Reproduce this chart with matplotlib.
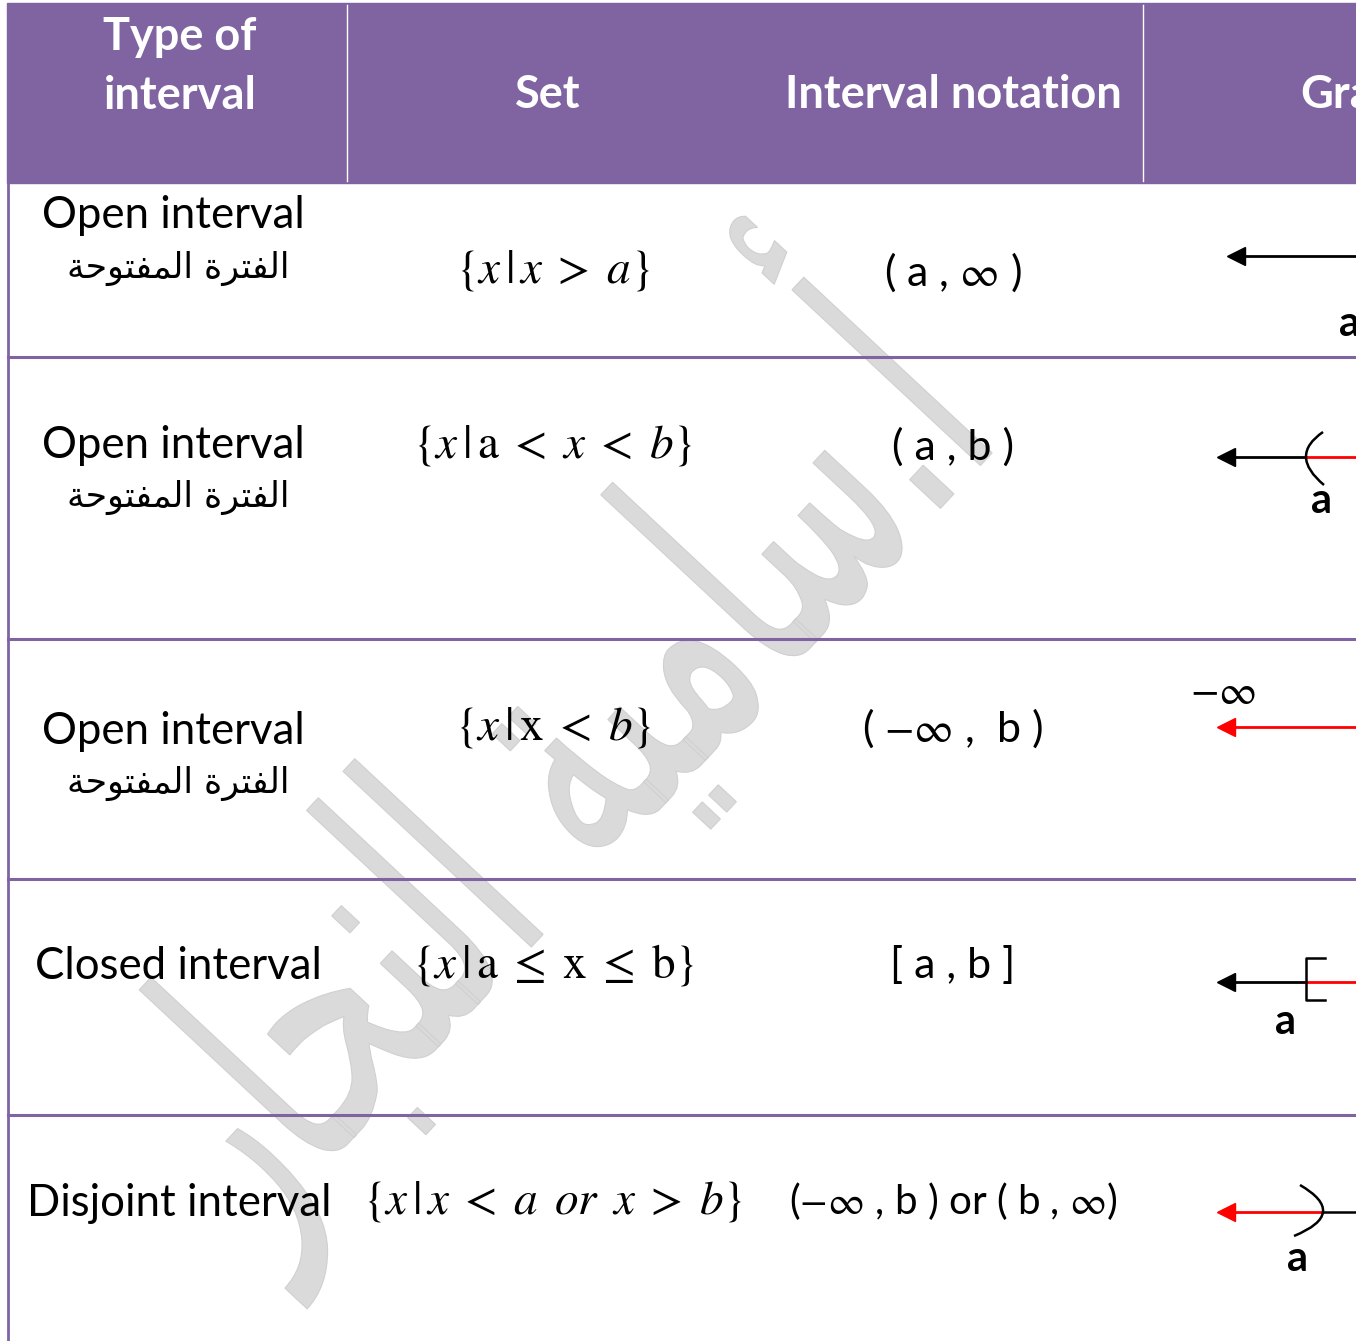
import numpy as np
import matplotlib
matplotlib.use("Agg")
import matplotlib.pyplot as plt
from matplotlib.path import Path
from matplotlib.patches import PathPatch, Rectangle
from matplotlib.textpath import TextPath
from matplotlib.font_manager import FontProperties
from matplotlib.transforms import Affine2D

plt.rcParams["mathtext.fontset"] = "stix"

PURPLE = "#8064A2"
W, H = 1356, 1341

# table content
headers = ["Type of\ninterval", "Set", "Interval notation", "Graph"]
types = ["Open interval", "Open interval", "Open interval", "Closed interval", "Disjoint interval"]
# Arabic "الفترة المفتوحة" written in shaped presentation forms (visual order)
arabic_label = "\ufe94\ufea3\ufeee\ufe98\ufed4\ufee4\ufedf\ufe8d \ufe93\ufeae\ufe98\ufed4\ufedf\ufe8d"
arabic = [arabic_label, arabic_label, arabic_label, None, None]
sets = [r"$\{x\,|\,x\;>\;a\}$",
        r"$\{x\,|\,\mathrm{a}\;<\;x\;<\;b\}$",
        r"$\{x\,|\,\mathrm{x}\;<\;b\}$",
        r"$\{x\,|\,\mathrm{a}\;\leq\;\mathrm{x}\;\leq\;\mathrm{b}\}$",
        r"$\{x\,|\,x\;<\;a\ \,or\ \,x\;>\;b\}$"]
notations = [r"( a , $\infty$ )", "( a , b )", r"( $-\infty$ ,  b )", "[ a , b ]",
             r"($-\infty$ , b ) or ( b , $\infty$)"]
graph_kind = ["ray_left", "open_left", "neg_inf", "closed_left", "open_right"]
# watermark "أ.سامية النجار" (visual order)
watermark = "\ufead\ufe8e\ufea0\ufee8\ufedf\ufe8d \ufe94\ufef4\ufee3\ufe8e\ufeb3.\ufe83"

# layout
row_edges = [183, 357, 639, 879, 1115, 1341]
type_y = [215, 445, 731, 966, 1203]
type_x = [42, 42, 42, 35, 27]
arabic_y = [268, 497, 783]
set_y = [270, 445, 727, 965, 1201]
note_y = [272, 447, 728, 965, 1201]
graph_y = [256, 457, 727, 982, 1212]

fig = plt.figure(figsize=(13.56, 13.41), dpi=100)
ax = fig.add_axes([0, 0, 1, 1])
ax.set_xlim(0, W)
ax.set_ylim(H, 0)
ax.axis("off")

TXT = ["Lato", "DejaVu Sans"]

# watermark, stretched along its height and laid on the diagonal
tp = TextPath((0, 0), watermark, size=100, prop=FontProperties(family="DejaVu Sans"))
bb = tp.get_extents()
sx = 1100 / bb.width
sy = 430 / bb.height
tr = (Affine2D().translate(-(bb.x0 + bb.width / 2), -(bb.y0 + bb.height / 2))
      .scale(sx, -sy).rotate_deg(-47).translate(525, 760))
ax.add_patch(PathPatch(tr.transform_path(tp), facecolor="#dadada", edgecolor="#d0d0d0",
                       lw=0.8, zorder=0))

# header
ax.add_patch(Rectangle((7, 3), W - 7, 180, color=PURPLE, zorder=1))
for xd in [347, 1143]:
    ax.plot([xd, xd], [5, 181], color="white", lw=1, zorder=2)
ax.text(180, 66, headers[0], family=TXT, fontsize=32.5, fontweight="bold", color="white",
        ha="center", va="center", linespacing=1.5, zorder=3)
ax.text(548, 95, headers[1], family=TXT, fontsize=32.5, fontweight="bold", color="white",
        ha="center", va="center", zorder=3)
ax.text(953, 95, headers[2], family=TXT, fontsize=32.5, fontweight="bold", color="white",
        ha="center", va="center", zorder=3)
ax.text(1300, 95, headers[3], family=TXT, fontsize=32.5, fontweight="bold", color="white",
        ha="left", va="center", zorder=3, clip_on=True)

# grid lines
ax.plot([8, 8], [183, H], color=PURPLE, lw=2, zorder=2)
for y in row_edges[1:-1]:
    ax.plot([8, W], [y, y], color=PURPLE, lw=2.2, zorder=2)

# rows
for i in range(5):
    ax.text(type_x[i], type_y[i], types[i], family=TXT, fontsize=31.5, ha="left", va="center", zorder=3)
    if arabic[i]:
        ax.text(178, arabic_y[i], arabic[i], family="DejaVu Sans", fontsize=25,
                ha="center", va="center", zorder=3)
    ax.text(553, set_y[i], sets[i], fontsize=34, ha="center", va="center", zorder=3)
    ax.text(953, note_y[i], notations[i], family=TXT, fontsize=31 if i < 4 else 29,
            ha="center", va="center", zorder=3)


def arrow(x_tip, x_end, y, color):
    ax.plot([x_tip + 10, x_end], [y, y], color=color, lw=2, zorder=3, solid_capstyle="butt")
    ax.plot(x_tip + 7, y, marker="<", ms=13, color=color, mec=color, zorder=4)


def arc(p0, mid, p2):
    c = (2 * mid[0] - 0.5 * (p0[0] + p2[0]), 2 * mid[1] - 0.5 * (p0[1] + p2[1]))
    path = Path([p0, c, p2], [Path.MOVETO, Path.CURVE3, Path.CURVE3])
    ax.add_patch(PathPatch(path, fill=False, color="black", lw=1.8, zorder=4))


def a_label(x, y):
    ax.text(x, y, "a", family=TXT, fontsize=30, fontweight="bold", ha="center", va="center", zorder=4)


for i, kind in enumerate(graph_kind):
    y = graph_y[i]
    if kind == "ray_left":
        arrow(1229, W, y, "black")
        a_label(1350, y + 68)
    elif kind == "open_left":
        arrow(1219, 1306, y, "black")
        ax.plot([1306, W], [y, y], color="red", lw=2, zorder=3)
        arc((1323, y - 25), (1306, y), (1324, y + 28))
        a_label(1321, y + 44)
    elif kind == "neg_inf":
        ax.text(1223, y - 35, r"$-\infty$", fontsize=30, ha="center", va="center", zorder=4)
        arrow(1219, W, y, "red")
    elif kind == "closed_left":
        arrow(1219, 1306, y, "black")
        ax.plot([1306, W], [y, y], color="red", lw=2, zorder=3)
        ax.plot([1325, 1306, 1306, 1325], [y - 24, y - 24, y + 18, y + 18], color="black", lw=1.8, zorder=4)
        a_label(1285, y + 40)
    elif kind == "open_right":
        arrow(1219, 1323, y, "red")
        ax.plot([1323, W], [y, y], color="black", lw=1.8, zorder=3)
        arc((1300, y - 27), (1323, y), (1294, y + 24))
        a_label(1298, y + 47)

fig.savefig("out.png", dpi=100, facecolor="white")
